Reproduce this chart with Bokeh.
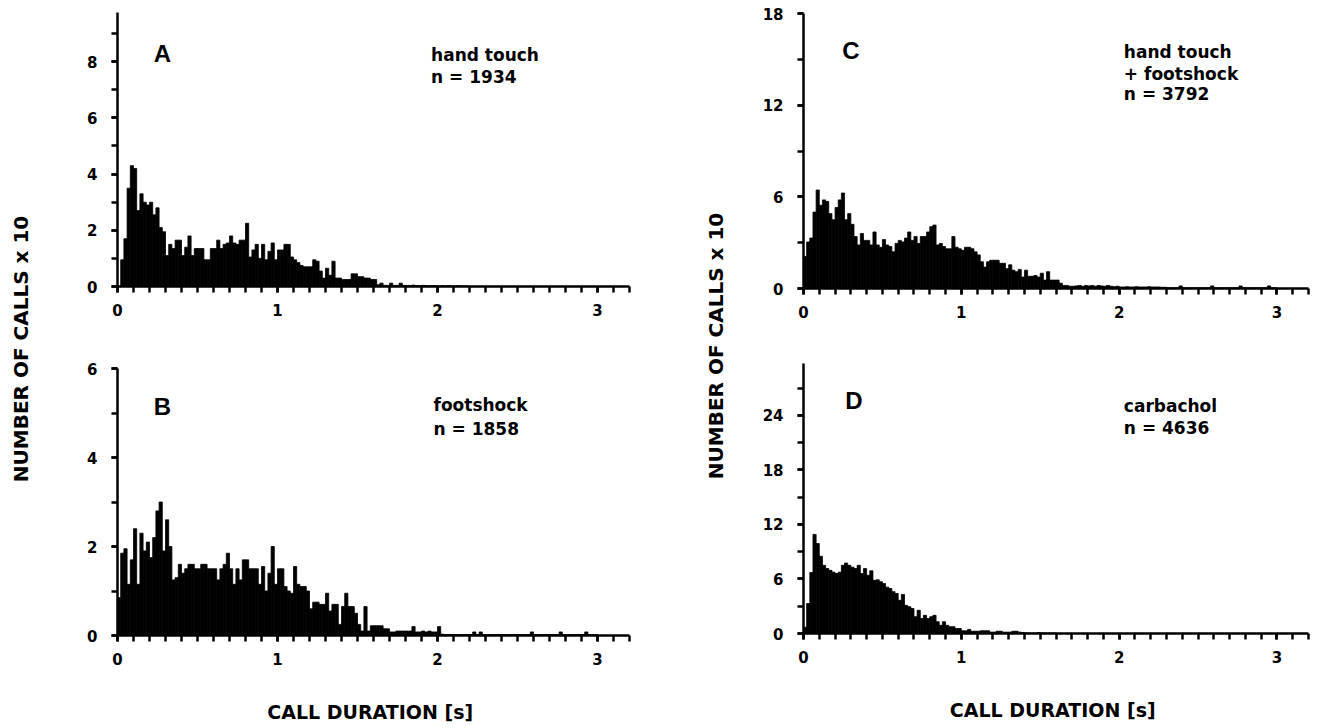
import numpy as np
from bokeh.plotting import figure
from bokeh.layouts import row, column
from bokeh.models import SingleIntervalTicker, Range1d
from bokeh.core.properties import value
from bokeh.embed import file_html
from bokeh.resources import INLINE

# ---------------- data (number of calls x 10 per 20 ms bin) ----------------
BIN = 0.02  # s

counts_A = [0, 0.95, 1.7, 3.5, 4.3, 4.2, 2.7, 3.3, 3.0, 2.9,
            3.0, 2.55, 2.8, 2.1, 1.95, 1.1, 1.5, 1.35, 1.65, 1.65,
            1.1, 1.4, 1.8, 1.1, 1.35, 1.35, 1.35, 0.95, 0.95, 1.35,
            1.35, 1.65, 1.35, 1.5, 1.55, 1.8, 1.55, 1.5, 1.65, 1.65,
            2.25, 1.05, 1.3, 1.5, 1.0, 1.5, 0.95, 1.25, 1.55, 0.95,
            1.3, 1.3, 1.5, 1.5, 1.05, 0.95, 0.85, 0.75, 0.7, 0.7,
            0.7, 0.95, 0.9, 0.55, 0.3, 0.65, 0.4, 0.9, 0.3, 0.3,
            0.25, 0.25, 0.25, 0.45, 0.45, 0.35, 0.35, 0.3, 0.3, 0.25,
            0.25, 0.06, 0.12, 0.04, 0.04, 0.12, 0.04, 0.04, 0.12, 0.04,
            0.03, 0.03, 0.05, 0.03, 0.03, 0.04, 0.03, 0.02, 0.03, 0.03,
            0.02, 0.03, 0.02, 0.03, 0.02, 0.02, 0.03, 0.02, 0.02, 0.02]

counts_B = [0.85, 1.85, 1.95, 1.15, 1.7, 2.4, 1.15, 2.3, 1.9, 2.1,
            1.75, 2.2, 2.8, 3.0, 1.9, 2.6, 2.0, 1.25, 1.3, 1.6,
            1.4, 1.5, 1.6, 1.6, 1.5, 1.5, 1.6, 1.6, 1.5, 1.5,
            1.5, 1.25, 1.5, 1.6, 1.85, 1.5, 1.15, 1.5, 1.25, 1.7,
            1.7, 1.5, 1.5, 1.5, 1.15, 1.55, 1.0, 1.4, 2.0, 1.15,
            1.5, 1.5, 1.1, 1.0, 0.95, 1.55, 1.15, 1.1, 1.1, 1.0,
            0.6, 0.75, 0.75, 0.7, 0.7, 0.95, 0.55, 0.7, 0.7, 0.25,
            0.65, 0.95, 0.65, 0.65, 0.5, 0.25, 0.1, 0.65, 0.1, 0.22,
            0.22, 0.22, 0.22, 0.15, 0.15, 0.08, 0.08, 0.1, 0.1, 0.1,
            0.1, 0.1, 0.2, 0.08, 0.08, 0.1, 0.08, 0.1, 0.08, 0.08,
            0.2, 0.03, 0.02, 0.02, 0.02, 0.02, 0.02, 0.02, 0.02, 0.02,
            0.02, 0.08, 0.02, 0.08, 0.02, 0.02, 0.02, 0.02, 0.02, 0.02,
            0.02, 0.02, 0.02, 0.02, 0.02, 0.02, 0.02, 0.02, 0.02, 0.08,
            0.02, 0.02, 0.02, 0.02, 0.02, 0.02, 0.02, 0.02, 0.08, 0.02,
            0.02, 0.02, 0.02, 0.02, 0.02, 0.02, 0.08, 0.02, 0.02, 0.02]

counts_C = [2.1, 3.05, 3.3, 5.0, 6.45, 5.45, 5.8, 5.7, 4.9, 4.5,
            5.3, 5.8, 6.25, 4.5, 4.9, 4.2, 3.4, 2.85, 3.6, 3.15,
            3.15, 2.85, 3.7, 2.85, 2.7, 3.2, 2.85, 2.75, 2.4, 2.95,
            3.15, 3.05, 3.3, 3.7, 3.15, 3.4, 2.95, 3.4, 3.4, 3.7,
            4.05, 4.15, 2.85, 2.95, 2.75, 2.6, 2.6, 3.4, 2.7, 2.6,
            2.5, 2.7, 2.7, 2.6, 2.4, 2.2, 1.75, 1.4, 1.75, 1.85,
            1.85, 1.85, 1.65, 1.65, 1.3, 1.55, 1.2, 1.1, 1.25, 0.75,
            1.2, 0.8, 0.8, 0.85, 0.75, 1.0, 0.55, 1.1, 0.55, 0.55,
            0.55, 0.35, 0.2, 0.2, 0.15, 0.15, 0.17, 0.2, 0.15, 0.2,
            0.17, 0.2, 0.15, 0.2, 0.17, 0.15, 0.2, 0.15, 0.12, 0.15,
            0.1, 0.1, 0.12, 0.1, 0.1, 0.12, 0.1, 0.1, 0.1, 0.12,
            0.1, 0.1, 0.1, 0.08, 0.08, 0.05, 0.05, 0.05, 0.05, 0.17,
            0.05, 0.05, 0.05, 0.05, 0.05, 0.05, 0.05, 0.05, 0.05, 0.17,
            0.05, 0.05, 0.05, 0.05, 0.05, 0.05, 0.05, 0.05, 0.17, 0.05,
            0.05, 0.05, 0.05, 0.05, 0.05, 0.05, 0.05, 0.17, 0.05, 0.05]

counts_D = [0.7, 3.3, 6.7, 10.9, 9.9, 8.5, 7.5, 7.15, 6.95, 6.75,
            6.6, 6.75, 7.5, 7.75, 7.5, 7.3, 7.15, 7.5, 6.6, 7.15,
            6.4, 6.9, 5.85, 5.9, 5.7, 5.5, 5.1, 4.95, 4.6, 4.4,
            3.65, 4.3, 3.1, 2.95, 2.75, 1.85, 2.55, 1.65, 2.0, 1.65,
            1.85, 2.0, 1.3, 0.9, 1.3, 0.9, 0.75, 0.75, 0.55, 0.55,
            0.3, 0.3, 0.45, 0.25, 0.25, 0.25, 0.3, 0.3, 0.3, 0.15,
            0.15, 0.25, 0.25, 0.15, 0.15, 0.15, 0.25, 0.25, 0.15, 0.1,
            0.05, 0.05, 0.05, 0.05, 0.1, 0.05, 0.05, 0.05, 0.05, 0.05]

panel_letters = ["A", "B", "C", "D"]
notes_A = ["hand  touch", "n = 1934"]
notes_B = ["footshock", "n = 1858"]
notes_C = ["hand  touch", "+ footshock", "n = 3792"]
notes_D = ["carbachol", "n = 4636"]

x_title = "CALL DURATION  [s]"
y_title = "NUMBER OF CALLS  x 10"

FONT = "DejaVu Sans"


def panel(counts, ymax, yint, fw, fh, bl, br, bt, bb, letter, lxy, notes, nx, nys,
          xlabel=None):
    p = figure(frame_width=fw, frame_height=fh,
               x_range=Range1d(0, 3.2), y_range=Range1d(0, ymax),
               toolbar_location=None, output_backend="svg",
               min_border_left=bl, min_border_right=br,
               min_border_top=bt, min_border_bottom=bb)
    p.outline_line_color = None
    p.grid.visible = False
    centers = [BIN * (i + 0.5) for i in range(len(counts))]
    p.vbar(x=centers, top=counts, width=BIN, bottom=0,
           fill_color="black", line_color="black", line_width=0.8)

    p.xaxis.ticker = SingleIntervalTicker(interval=1, num_minor_ticks=10)
    p.yaxis.ticker = SingleIntervalTicker(interval=yint, num_minor_ticks=2)
    for ax in (p.xaxis, p.yaxis):
        ax.axis_line_width = 2.5
        ax.major_tick_line_width = 2.5
        ax.minor_tick_line_width = 2.5
        ax.major_tick_out = 6
        ax.minor_tick_out = 6
        ax.major_tick_in = 0
        ax.minor_tick_in = 0
        ax.major_label_text_font = FONT
        ax.major_label_text_font_style = "bold"
        ax.major_label_text_font_size = "15px"
        ax.major_label_text_color = "black"
    p.xaxis.major_label_standoff = 11
    p.yaxis.major_label_standoff = 14
    if xlabel:
        p.xaxis.axis_label = xlabel
        p.xaxis.axis_label_text_font = FONT
        p.xaxis.axis_label_text_font_style = "bold"
        p.xaxis.axis_label_text_font_size = "19px"
        p.xaxis.axis_label_text_color = "black"
        p.xaxis.axis_label_standoff = 33

    p.text(x=[lxy[0]], y=[lxy[1]], text=[letter],
           text_font=value("Liberation Sans"), text_font_style="bold",
           text_font_size="24px", text_align="center", text_baseline="middle",
           text_color="black")
    p.text(x=[nx] * len(notes), y=nys, text=notes,
           text_font=value(FONT), text_font_style="bold",
           text_font_size="17px", text_align="left", text_baseline="middle",
           text_color="black")
    return p


def label_fig(w, h, txt, tx, ty, angle):
    f = figure(frame_width=w, frame_height=h,
               x_range=Range1d(0, w), y_range=Range1d(0, h),
               toolbar_location=None, output_backend="svg", min_border=0)
    f.axis.visible = False
    f.grid.visible = False
    f.outline_line_color = None
    f.text(x=[tx], y=[ty], text=[txt], angle=angle,
           text_font=value(FONT), text_font_style="bold",
           text_font_size="20px", text_align="center", text_baseline="middle",
           text_color="black")
    return f


H = 725
pA = panel(counts_A, 9.75, 2, 512, 274, 69, 51, 12, 44, "A", (0.28, 8.3),
           notes_A, 1.96, [8.25, 7.45])
pB = panel(counts_B, 6.0, 2, 512, 267, 69, 51, 38, 90, "B", (0.28, 5.15),
           notes_B, 1.975, [5.18, 4.64], xlabel=x_title)
pC = panel(counts_C, 18.0, 6, 505, 275, 63, 5, 13, 42, "C", (0.30, 15.6),
           notes_C, 2.03, [15.5, 14.05, 12.75])
pD = panel(counts_D, 29.7, 6, 505, 270, 63, 5, 33, 92, "D", (0.32, 25.6),
           notes_D, 2.03, [25.05, 22.6], xlabel=x_title)

ylab1 = label_fig(48, H, y_title, 20, H - 345, np.pi / 2)
ylab2 = label_fig(60, H, y_title, 35, H - 342, np.pi / 2)

layout = row(ylab1, column(pA, pB, spacing=0), ylab2,
             column(pC, pD, spacing=0), spacing=0)

open("out.html", "w").write(file_html(layout, INLINE))
